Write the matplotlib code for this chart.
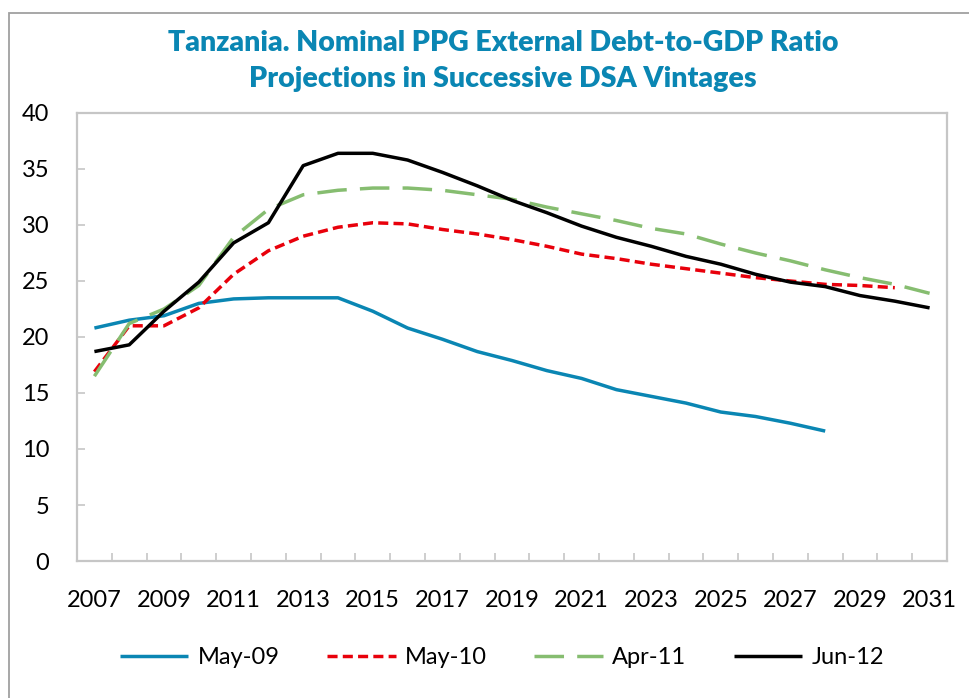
import numpy as np
import matplotlib
matplotlib.use("Agg")
import matplotlib.pyplot as plt
from matplotlib.patches import Rectangle
from matplotlib.ticker import MultipleLocator

# Datos: ratio deuda externa PPG / PIB (%) por vintage del DSA
years = list(range(2007, 2032))
may09 = [20.8, 21.5, 21.9, 23.0, 23.4, 23.5, 23.5, 23.5, 22.3, 20.8, 19.8,
         18.7, 17.9, 17.0, 16.3, 15.3, 14.7, 14.1, 13.3, 12.9, 12.3, 11.6]
may10 = [16.9, 21.0, 21.0, 22.6, 25.6, 27.7, 29.0, 29.8, 30.2, 30.1, 29.6,
         29.2, 28.7, 28.1, 27.4, 27.0, 26.5, 26.1, 25.7, 25.3, 25.0, 24.7,
         24.6, 24.4]
apr11 = [16.5, 21.2, 22.5, 24.6, 28.9, 31.4, 32.7, 33.1, 33.3, 33.3, 33.1,
         32.7, 32.3, 31.6, 31.0, 30.4, 29.7, 29.2, 28.3, 27.5, 26.8, 26.0,
         25.3, 24.7, 23.9]
jun12 = [18.7, 19.3, 22.3, 24.9, 28.4, 30.2, 35.3, 36.4, 36.4, 35.8, 34.7,
         33.5, 32.2, 31.1, 29.9, 28.9, 28.1, 27.2, 26.5, 25.6, 24.9, 24.5,
         23.7, 23.2, 22.6]
series_labels = ["May-09", "May-10", "Apr-11", "Jun-12"]
title = "Tanzania. Nominal PPG External Debt-to-GDP Ratio\nProjections in Successive DSA Vintages"

plt.rcParams["font.family"] = ["Lato", "DejaVu Sans"]

W, H = 969, 698
fig = plt.figure(figsize=(W / 100, H / 100), dpi=100)
fig.patch.set_facecolor("white")

# marco exterior (solo izquierda y arriba visibles)
fig.patches.append(Rectangle((9 / W, -0.5), 2, 1.5 - 13 / H,
                             transform=fig.transFigure, fill=False,
                             edgecolor="#A0A0A0", lw=1.3))

ax = fig.add_axes([77 / W, 1 - 561 / H, 870 / W, 448 / H])

lw = 2.5
ax.plot(years[:len(may09)], may09, color="#0A86B3", lw=lw,
        solid_capstyle="butt", label=series_labels[0])
ax.plot(years[:len(may10)], may10, color="#E8000B", lw=lw,
        dashes=(2.9, 1.5), label=series_labels[1])
ax.plot(years[:len(apr11)], apr11, color="#86BD70", lw=lw,
        dashes=(8.5, 3.8), label=series_labels[2])
ax.plot(years[:len(jun12)], jun12, color="black", lw=lw,
        solid_capstyle="butt", label=series_labels[3])

ax.set_xlim(2006.5, 2031.5)
ax.set_ylim(0, 40)
ax.set_xticks(years[::2])
ax.xaxis.set_minor_locator(MultipleLocator(1, offset=0.5))
ax.yaxis.set_major_locator(MultipleLocator(5))

for s in ax.spines.values():
    s.set_color("#C6C6C6")
    s.set_linewidth(1.6)

ax.tick_params(axis="x", which="major", length=0, pad=21, labelsize=17)
ax.tick_params(axis="x", which="minor", length=6, width=1.2,
               direction="in", color="#C6C6C6")
ax.tick_params(axis="y", which="major", length=6, width=1.2,
               direction="in", color="#C6C6C6", pad=20, labelsize=17)

fig.text(503 / W, 1 - 61 / H, title, ha="center", va="center",
         color="#0A86B3", fontsize=20.5, fontweight="heavy", linespacing=1.45)

fig.legend(loc="center", bbox_to_anchor=(502 / W, 1 - 658 / H), ncol=4,
           frameon=False, fontsize=17, handlelength=2.9, handletextpad=0.4,
           columnspacing=2.0)

fig.savefig("out.png", dpi=100)
